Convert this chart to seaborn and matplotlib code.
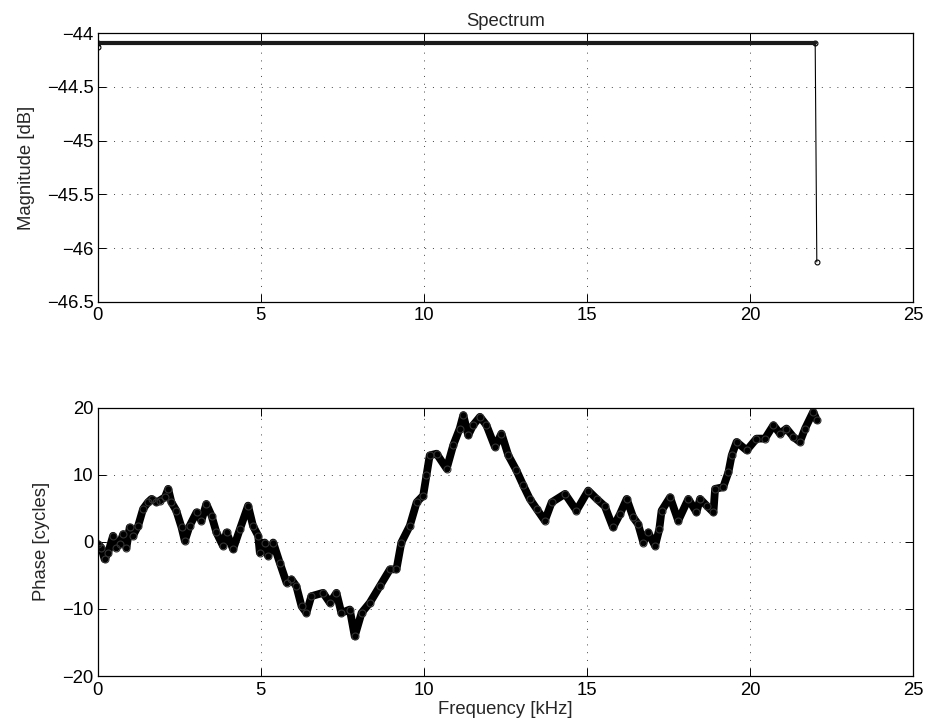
import matplotlib
matplotlib.use("Agg")
import matplotlib.pyplot as plt
import seaborn as sns
import pandas as pd
from matplotlib.ticker import FuncFormatter

# ---------------- data ----------------
mag_freq = [0.0, 0.02, 22.0, 22.05]
mag_db = [-44.13, -44.088, -44.088, -46.13]

phase_freq = [0.01, 0.11, 0.21, 0.32, 0.47, 0.57, 0.67, 0.78, 0.88, 0.98,
              1.08, 1.24, 1.39, 1.54, 1.65, 1.80, 1.90, 2.06, 2.16, 2.26,
              2.41, 2.57, 2.67, 2.82, 3.03, 3.18, 3.33, 3.49, 3.64, 3.84,
              3.95, 4.15, 4.36, 4.61, 4.76, 4.92, 4.97, 5.12, 5.22, 5.38,
              5.58, 5.79, 5.94, 6.09, 6.25, 6.40, 6.55, 6.91, 7.12, 7.32,
              7.47, 7.73, 7.88, 8.09, 8.34, 8.65, 8.96, 9.16, 9.31, 9.57,
              9.78, 9.98, 10.08, 10.18, 10.39, 10.70, 10.90, 11.10, 11.21, 11.36,
              11.51, 11.72, 11.92, 12.18, 12.38, 12.59, 12.84, 13.05, 13.25, 13.46,
              13.71, 13.92, 14.33, 14.68, 15.04, 15.30, 15.55, 15.80, 16.01, 16.22,
              16.42, 16.57, 16.73, 16.88, 17.09, 17.22, 17.29, 17.55, 17.80, 18.11,
              18.36, 18.47, 18.67, 18.88, 18.93, 19.18, 19.34, 19.44, 19.59, 19.90,
              20.20, 20.46, 20.72, 20.92, 21.12, 21.33, 21.53, 21.69, 21.94, 22.05]
phase_cycles = [-0.35, -0.85, -2.60, -1.60, 0.90, -0.85, -0.35, 1.15, -0.85, 2.15,
                0.90, 2.40, 4.90, 5.90, 6.40, 5.90, 6.15, 6.65, 7.90, 5.90,
                4.65, 2.15, 0.15, 2.40, 4.40, 3.15, 5.65, 3.90, 1.40, -0.60,
                1.40, -1.10, 1.90, 5.40, 2.40, 0.90, -1.60, -0.10, -2.10, -0.10,
                -3.10, -6.10, -5.60, -6.60, -9.60, -10.59, -8.10, -7.60, -9.10, -7.60,
                -10.59, -10.09, -14.09, -10.59, -9.10, -6.60, -4.10, -4.10, -0.10, 2.40,
                5.90, 6.90, 9.90, 12.89, 13.14, 10.90, 14.39, 16.89, 18.89, 15.89,
                17.39, 18.64, 17.39, 14.14, 16.14, 12.89, 10.64, 8.40, 6.40, 4.90,
                3.15, 5.90, 7.15, 4.65, 7.65, 6.40, 5.30, 2.15, 4.10, 6.40,
                3.65, 2.65, -0.10, 1.40, -0.60, 1.90, 4.65, 6.65, 3.15, 6.40,
                4.40, 6.40, 5.40, 4.40, 7.90, 8.15, 10.39, 12.89, 14.89, 13.64,
                15.39, 15.39, 17.39, 16.14, 16.89, 15.64, 14.89, 16.89, 19.39, 18.14]

x_ticks = [0, 5, 10, 15, 20, 25]
mag_ticks = [-46.5, -46, -45.5, -45, -44.5, -44]
phase_ticks = [-20, -10, 0, 10, 20]

mag_df = pd.DataFrame({"f": mag_freq, "m": mag_db})
phase_df = pd.DataFrame({"f": phase_freq, "p": phase_cycles})

# ---------------- style ----------------
sns.set_theme(style="white")
plt.rcParams["font.family"] = ["Liberation Sans", "DejaVu Sans"]
plt.rcParams["axes.unicode_minus"] = True
FS = 13.3

fig = plt.figure(figsize=(9.29, 7.28), dpi=100)
ax1 = fig.add_axes([0.1052, 0.5856, 0.8776, 0.3687])
ax2 = fig.add_axes([0.1052, 0.0714, 0.8776, 0.3686])

# magnitude
sns.lineplot(data=mag_df, x="f", y="m", ax=ax1, color="black", lw=0.8,
             marker="o", markersize=3.5, markerfacecolor="none",
             markeredgecolor="black", markeredgewidth=0.8,
             sort=False, estimator=None)
flat = mag_df.iloc[1:3]
sns.lineplot(data=flat, x="f", y="m", ax=ax1, color="#1a1a1a", lw=3.0,
             sort=False, estimator=None)

# phase
sns.lineplot(data=phase_df, x="f", y="p", ax=ax2, color="black", lw=5.6,
             marker="o", markersize=5, markerfacecolor="none",
             markeredgecolor="#333333", markeredgewidth=0.8,
             sort=False, estimator=None)
for ln in ax2.lines:
    ln.set_solid_joinstyle("round")
    ln.set_solid_capstyle("round")

fmt = FuncFormatter(lambda v, pos: ("%g" % v).replace("-", "\u2212"))

for ax, ylim, yt in ((ax1, (-46.5, -44), mag_ticks), (ax2, (-20, 20), phase_ticks)):
    ax.set_xlim(0, 25)
    ax.set_ylim(*ylim)
    ax.set_xticks(x_ticks)
    ax.set_yticks(yt)
    ax.xaxis.set_major_formatter(fmt)
    ax.yaxis.set_major_formatter(fmt)
    ax.grid(True, color="#444444", linestyle=(0, (1, 7)), linewidth=0.7)
    for s in ax.spines.values():
        s.set_visible(True)
        s.set_color("black")
        s.set_linewidth(0.9)
    ax.tick_params(direction="in", length=6, width=0.7, colors="black",
                   top=True, right=True, bottom=True, left=True,
                   labelsize=FS)
    ax.tick_params(axis="x", pad=4)
    ax.tick_params(axis="y", pad=3)
    ax.set_facecolor("white")

ax1.set_xlabel("")
ax1.set_ylabel("Magnitude [dB]", fontsize=FS)
ax1.yaxis.set_label_coords(-0.077, 0.5)
ax1.set_title("Spectrum", fontsize=FS, pad=5)
ax2.set_xlabel("Frequency [kHz]", fontsize=FS, labelpad=1.5)
ax2.set_ylabel("Phase [cycles]", fontsize=FS)
ax2.yaxis.set_label_coords(-0.0585, 0.5)

fig.savefig("out.png", dpi=100, facecolor="white")
